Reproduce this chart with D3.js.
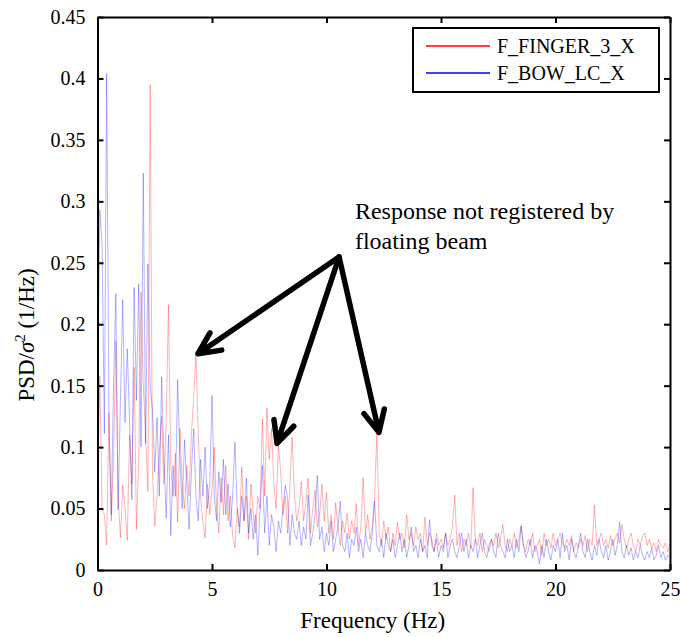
<!DOCTYPE html>
<html>
<head>
<meta charset="utf-8">
<script src="https://d3js.org/d3.v7.min.js"></script>
<style>
  body { margin: 0; background: #fff; }
  svg text { font-family: "Liberation Serif", "Tinos", "Times New Roman", "DejaVu Serif", serif; fill: #000; }
</style>
</head>
<body>
<div id="viz"></div>
<script>
// PSD values sampled every 0.1 Hz, 0 .. 25 Hz
var freqStep = 0.1;

var fingerX = [
    0.060, 0.158, 0.050, 0.045, 0.020, 0.128, 0.040, 0.090, 0.186, 0.060,
    0.026, 0.069, 0.050, 0.024, 0.110, 0.070, 0.165, 0.033, 0.090, 0.226,
    0.150, 0.110, 0.064, 0.395, 0.080, 0.036, 0.060, 0.095, 0.125, 0.070,
    0.120, 0.216, 0.085, 0.060, 0.095, 0.039, 0.115, 0.070, 0.050, 0.085,
    0.060, 0.110, 0.140, 0.176, 0.110, 0.060, 0.040, 0.026, 0.070, 0.045,
    0.065, 0.100, 0.050, 0.030, 0.075, 0.045, 0.085, 0.040, 0.060, 0.028,
    0.018, 0.050, 0.035, 0.084, 0.040, 0.060, 0.025, 0.070, 0.045, 0.030,
    0.060, 0.050, 0.123, 0.060, 0.132, 0.090, 0.115, 0.070, 0.050, 0.102,
    0.080, 0.045, 0.060, 0.030, 0.070, 0.108, 0.060, 0.040, 0.050, 0.072,
    0.040, 0.055, 0.075, 0.030, 0.050, 0.065, 0.035, 0.045, 0.070, 0.040,
    0.063, 0.030, 0.045, 0.025, 0.055, 0.035, 0.020, 0.040, 0.030, 0.046,
    0.025, 0.040, 0.030, 0.054, 0.020, 0.035, 0.075, 0.030, 0.045, 0.025,
    0.035, 0.060, 0.112, 0.030, 0.020, 0.040, 0.025, 0.035, 0.015, 0.030,
    0.020, 0.039, 0.025, 0.030, 0.018, 0.045, 0.025, 0.030, 0.020, 0.035,
    0.025, 0.030, 0.015, 0.043, 0.020, 0.030, 0.025, 0.015, 0.030, 0.020,
    0.025, 0.018, 0.030, 0.020, 0.025, 0.035, 0.061, 0.020, 0.030, 0.015,
    0.025, 0.020, 0.030, 0.018, 0.067, 0.025, 0.020, 0.030, 0.015, 0.025,
    0.020, 0.015, 0.025, 0.020, 0.030, 0.018, 0.025, 0.037, 0.020, 0.015,
    0.025, 0.020, 0.030, 0.018, 0.025, 0.036, 0.020, 0.015, 0.025, 0.020,
    0.030, 0.015, 0.020, 0.025, 0.012, 0.030, 0.020, 0.025, 0.018, 0.030,
    0.020, 0.025, 0.030, 0.022, 0.018, 0.025, 0.020, 0.028, 0.015, 0.022,
    0.018, 0.025, 0.020, 0.028, 0.015, 0.025, 0.020, 0.053, 0.020, 0.025,
    0.030, 0.020, 0.025, 0.018, 0.028, 0.020, 0.025, 0.030, 0.022, 0.037,
    0.025, 0.018, 0.025, 0.030, 0.020, 0.015, 0.025, 0.020, 0.028, 0.030,
    0.020, 0.025, 0.018, 0.022, 0.015, 0.025, 0.020, 0.018, 0.022, 0.015,
    0.020
];

var bowLcX = [
    0.120, 0.293, 0.265, 0.111, 0.404, 0.120, 0.045, 0.150, 0.225, 0.049,
    0.137, 0.220, 0.120, 0.180, 0.122, 0.057, 0.230, 0.138, 0.233, 0.100,
    0.323, 0.103, 0.249, 0.150, 0.130, 0.080, 0.124, 0.060, 0.157, 0.090,
    0.042, 0.110, 0.028, 0.085, 0.060, 0.155, 0.090, 0.050, 0.106, 0.070,
    0.033, 0.080, 0.115, 0.060, 0.040, 0.090, 0.060, 0.100, 0.050, 0.070,
    0.142, 0.060, 0.040, 0.080, 0.055, 0.090, 0.045, 0.070, 0.035, 0.060,
    0.104, 0.050, 0.030, 0.060, 0.040, 0.075, 0.030, 0.050, 0.025, 0.045,
    0.012, 0.050, 0.085, 0.030, 0.060, 0.020, 0.045, 0.035, 0.015, 0.040,
    0.030, 0.050, 0.069, 0.058, 0.020, 0.045, 0.030, 0.025, 0.040, 0.020,
    0.035, 0.025, 0.061, 0.020, 0.030, 0.045, 0.077, 0.025, 0.035, 0.015,
    0.030, 0.020, 0.040, 0.015, 0.025, 0.035, 0.056, 0.020, 0.015, 0.030,
    0.010, 0.025, 0.020, 0.035, 0.015, 0.025, 0.010, 0.030, 0.020, 0.015,
    0.030, 0.056, 0.020, 0.015, 0.025, 0.010, 0.030, 0.020, 0.015, 0.025,
    0.010, 0.020, 0.030, 0.015, 0.025, 0.010, 0.020, 0.035, 0.015, 0.020,
    0.010, 0.025, 0.015, 0.020, 0.010, 0.041, 0.020, 0.015, 0.025, 0.010,
    0.020, 0.015, 0.030, 0.010, 0.020, 0.025, 0.015, 0.010, 0.020, 0.030,
    0.015, 0.025, 0.010, 0.020, 0.015, 0.025, 0.010, 0.020, 0.030, 0.015,
    0.010, 0.020, 0.025, 0.015, 0.010, 0.030, 0.020, 0.015, 0.010, 0.025,
    0.015, 0.020, 0.010, 0.025, 0.015, 0.036, 0.020, 0.010, 0.015, 0.025,
    0.010, 0.020, 0.015, 0.005, 0.020, 0.010, 0.025, 0.015, 0.008, 0.020,
    0.015, 0.025, 0.010, 0.030, 0.015, 0.020, 0.008, 0.025, 0.015, 0.010,
    0.020, 0.030, 0.015, 0.010, 0.025, 0.015, 0.008, 0.020, 0.012, 0.025,
    0.015, 0.010, 0.020, 0.008, 0.015, 0.025, 0.012, 0.020, 0.039, 0.015,
    0.010, 0.020, 0.012, 0.018, 0.008, 0.015, 0.010, 0.020, 0.012, 0.008,
    0.015, 0.010, 0.018, 0.008, 0.012, 0.020, 0.010, 0.015, 0.008, 0.012,
    0.010
];

var seriesNames = ["F_FINGER_3_X", "F_BOW_LC_X"];
var seriesColors = ["#ff0000", "#0000ff"];
var xTicks = [0, 5, 10, 15, 20, 25];
var yTicks = [0, 0.05, 0.1, 0.15, 0.2, 0.25, 0.3, 0.35, 0.4, 0.45];

// annotation: text lines and arrows (tail -> head) in data units
var noteLines = ["Response not registered by", "floating beam"];
var noteAt = [[11.24, 0.2856], [11.24, 0.2612]];
var arrowTail = [10.55, 0.2547];
var arrowHeads = [[4.39, 0.176], [7.84, 0.103], [12.29, 0.112]];

var serif = "'Liberation Serif', 'Tinos', 'Times New Roman', 'DejaVu Serif', serif";

var margin = {top: 17, right: 10, bottom: 67, left: 97.5},
    width = 680 - margin.left - margin.right,
    height = 637 - margin.top - margin.bottom;

var svg = d3.select("#viz")
    .append("svg")
    .attr("width", width + margin.left + margin.right)
    .attr("height", height + margin.top + margin.bottom)
    .attr("font-family", serif)
    .append("g")
    .attr("transform", "translate(" + margin.left + "," + margin.top + ")");

var x = d3.scaleLinear().domain([0, 25]).range([0, width]);
var y = d3.scaleLinear().domain([0, 0.45]).range([height, 0]);

// data lines
var line = d3.line()
    .x(function (d, i) { return x(i * freqStep); })
    .y(function (d) { return y(d); });

svg.append("defs").append("clipPath").attr("id", "clip")
    .append("rect").attr("width", width).attr("height", height);

var plot = svg.append("g").attr("clip-path", "url(#clip)");
[fingerX, bowLcX].forEach(function (s, k) {
    plot.append("path")
        .datum(s)
        .attr("fill", "none")
        .attr("stroke", seriesColors[k])
        .attr("stroke-opacity", 0.5)
        .attr("stroke-width", 0.6)
        .attr("stroke-linejoin", "round")
        .attr("d", line);
});

// axes, ticks inward on all four sides
var tickLen = 6;
svg.append("g")
    .attr("transform", "translate(0," + height + ")")
    .call(d3.axisBottom(x).tickValues(xTicks).tickSizeInner(-tickLen).tickSizeOuter(0).tickPadding(12).tickFormat(d3.format("d")));
svg.append("g")
    .call(d3.axisTop(x).tickValues(xTicks).tickSizeInner(-tickLen).tickSizeOuter(0).tickFormat(""));
svg.append("g")
    .call(d3.axisLeft(y).tickValues(yTicks).tickSizeInner(-tickLen).tickSizeOuter(0).tickPadding(12).tickFormat(function (d) { return d3.format("")(+d.toFixed(2)); }));
svg.append("g")
    .attr("transform", "translate(" + width + ",0)")
    .call(d3.axisRight(y).tickValues(yTicks).tickSizeInner(-tickLen).tickSizeOuter(0).tickFormat(""));

svg.selectAll(".domain").attr("stroke", "#000").attr("stroke-width", 2);
svg.selectAll(".tick line").attr("stroke", "#000").attr("stroke-width", 2);
svg.selectAll("g").filter(function () { return this.hasAttribute("font-family"); })
    .attr("font-family", serif);
svg.selectAll(".tick text")
    .attr("font-family", serif)
    .attr("font-size", 20);

// axis labels
svg.append("text")
    .attr("x", width / 2 - 11)
    .attr("y", height + 58)
    .attr("text-anchor", "middle")
    .attr("font-family", serif)
    .attr("font-size", 23)
    .text("Frequency (Hz)");

var yl = svg.append("text")
    .attr("transform", "translate(" + (-64) + "," + (318) + ") rotate(-90)")
    .attr("text-anchor", "middle")
    .attr("font-family", serif)
    .attr("font-size", 23);
yl.append("tspan").text("PSD/");
yl.append("tspan").attr("font-style", "italic").text("σ");
yl.append("tspan").attr("dy", -9).attr("font-size", 15).text("2");
yl.append("tspan").attr("dy", 9).text(" (1/Hz)");

// legend
var lg = svg.append("g").attr("transform", "translate(" + (width - 257) + ",11)");
lg.append("rect")
    .attr("width", 246).attr("height", 64)
    .attr("fill", "#fff").attr("stroke", "#000").attr("stroke-width", 2);
seriesNames.forEach(function (n, i) {
    lg.append("line")
        .attr("x1", 13).attr("x2", 77)
        .attr("y1", 18 + i * 27).attr("y2", 18 + i * 27)
        .attr("stroke", seriesColors[i]).attr("stroke-width", 1.5);
    lg.append("text")
        .attr("x", 84).attr("y", 25 + i * 27)
        .attr("font-family", serif)
        .attr("font-size", 20)
        .text(n);
});

// annotation text
noteLines.forEach(function (t, i) {
    svg.append("text")
        .attr("x", x(noteAt[i][0]))
        .attr("y", y(noteAt[i][1]))
        .attr("font-family", serif)
        .attr("font-size", 24)
        .text(t);
});

// arrows
var arrows = svg.append("g")
    .attr("stroke", "#000")
    .attr("stroke-width", 5.5)
    .attr("fill", "none")
    .attr("stroke-linecap", "round")
    .attr("stroke-linejoin", "round");
arrowHeads.forEach(function (h) {
    var x0 = x(arrowTail[0]), y0 = y(arrowTail[1]),
        x1 = x(h[0]), y1 = y(h[1]);
    var a = Math.atan2(y1 - y0, x1 - x0), L = 24, w = 0.45;
    arrows.append("path")
        .attr("d", "M" + x0 + "," + y0 + "L" + x1 + "," + y1 +
            "M" + (x1 - L * Math.cos(a - w)) + "," + (y1 - L * Math.sin(a - w)) +
            "L" + x1 + "," + y1 +
            "L" + (x1 - L * Math.cos(a + w)) + "," + (y1 - L * Math.sin(a + w)));
});
</script>
</body>
</html>
